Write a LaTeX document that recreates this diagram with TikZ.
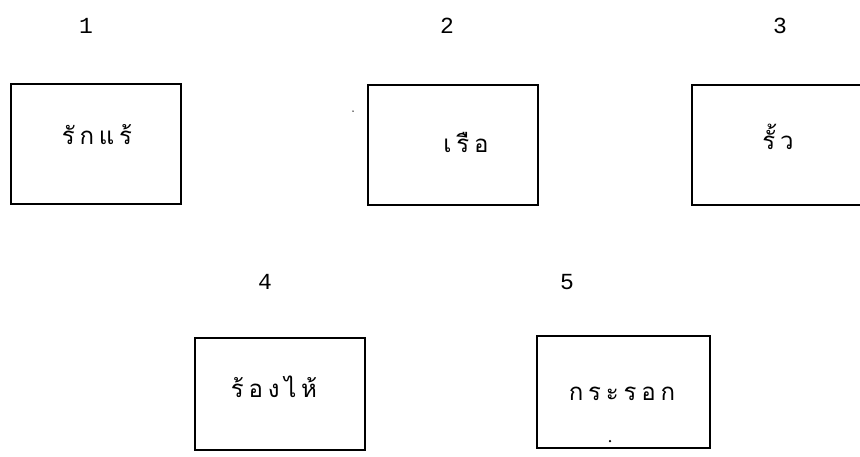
\documentclass[tikz,border=0pt]{standalone}
\usepackage{fontspec}
\newfontfamily\thaifont[Script=Thai,LetterSpace=20]{Loma}
\newfontfamily\numfont{Liberation Mono}
\begin{document}
\begin{tikzpicture}[x=1pt,y=-1pt,
  box/.style={draw,line width=2pt,rectangle,inner sep=0pt},
  word/.style={font=\thaifont\fontsize{24}{28}\selectfont,inner sep=0pt},
  num/.style={font=\numfont\fontsize{23}{26}\selectfont,inner sep=0pt},
  speck/.style={circle,fill,inner sep=0pt,minimum size=2.5pt}]
\useasboundingbox (0,0) rectangle (860,456);
% numbers
\node[num] (n1) at (86,26) {1};
\node[num] (n2) at (447,26) {2};
\node[num] (n3) at (780,26) {3};
\node[num] (n4) at (265,282) {4};
\node[num] (n5) at (567,282) {5};
% boxes
\node[box,minimum width=170pt,minimum height=120pt] (b1) at (96,144) {};
\node[box,minimum width=170pt,minimum height=120pt] (b2) at (453,145) {};
\node[box,minimum width=172pt,minimum height=120pt] (b3) at (778,145) {};
\node[box,minimum width=170pt,minimum height=112pt] (b4) at (280,394) {};
\node[box,minimum width=173pt,minimum height=112pt] (b5) at (623,392) {};
% words
\node[word] (w1) at (97,135) {รักแร้};
\node[word] (w2) at (466,142) {เรือ};
\node[word] (w3) at (778,137) {รั้ว};
\node[word] (w4) at (274,387) {ร้องไห้};
\node[word] (w5) at (622,394) {กระรอก};
% specks
\node[speck] (s1) at (610,441) {};
\node[speck,minimum size=1.5pt] (s2) at (353,111) {};
\end{tikzpicture}
\end{document}
